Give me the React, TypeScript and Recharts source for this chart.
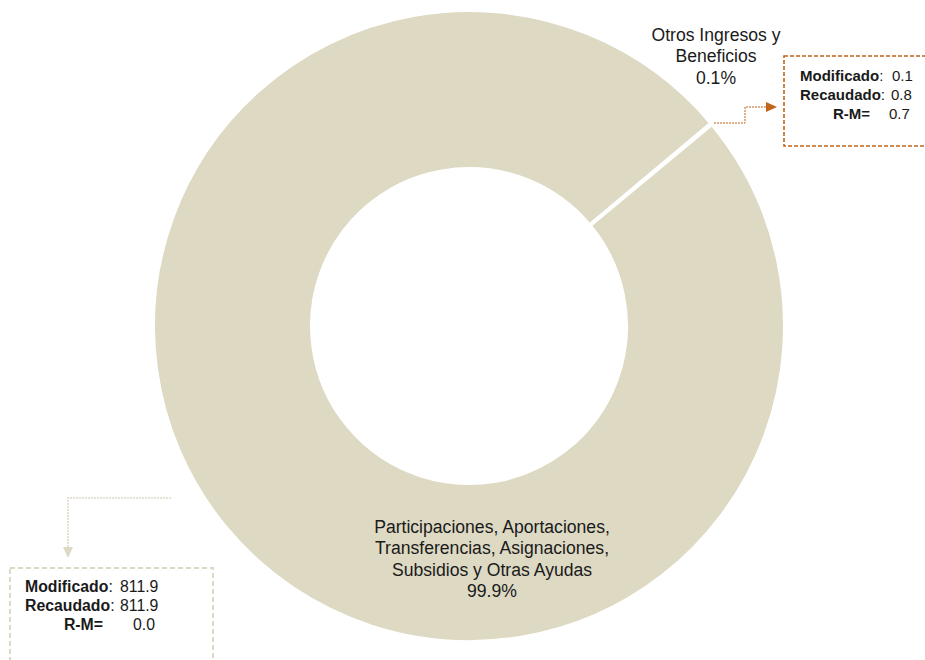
import { Cell, Pie, PieChart } from 'recharts';

document.body.style.margin = '0';

const categories = [
    'Otros Ingresos y Beneficios',
    'Participaciones, Aportaciones, Transferencias, Asignaciones, Subsidios y Otras Ayudas',
];
const labelLines = [
    ['Otros Ingresos y', 'Beneficios'],
    ['Participaciones, Aportaciones,', 'Transferencias, Asignaciones,', 'Subsidios y Otras Ayudas'],
];
const modificado = [0.1, 811.9];
const recaudado = [0.8, 811.9];

const FILL = '#DDD9C3';
const TEXT = '#1a1a1a';
const FONT = '"Liberation Sans", Arial, sans-serif';

const data = categories.map((name, i) => ({
    name,
    value: recaudado[i],
    modificado: modificado[i],
    recaudado: recaudado[i],
}));

// label / callout placement relative to the pie centre
const labelPos = [
    { dx: 247, dy: -291 },
    { dx: 23, dy: 201 },
];

// rows of a callout box: bold caption, value
function boxRows(index: number) {
    const mod = modificado[index];
    const rec = recaudado[index];
    return [
        ['Modificado', ':', mod.toFixed(1)],
        ['Recaudado', ':', rec.toFixed(1)],
        ['R-M=', '', (rec - mod).toFixed(1)],
    ];
}

function Callout({ index, cx, cy }: { index: number; cx: number; cy: number }) {
    const rows = boxRows(index);
    const top = index === 0;
    const color = top ? '#C0651A' : FILL;
    const textX = top ? cx + 331 : cx - 444;
    const rmX = top ? cx + 401 : cx - 366;
    const valX = top ? [cx + 423, cx + 422, cx + 420] : [cx - 349, cx - 349, cx - 336];
    const rowY = top ? cy - 251 : cy + 260;
    return (
        <g>
            {top ? (
                <>
                    <polyline
                        points={`${cx + 245},${cy - 203} ${cx + 276},${cy - 203} ${cx + 276},${cy - 219} ${cx + 298},${cy - 219}`}
                        fill="none"
                        stroke={color}
                        strokeWidth={1}
                        strokeDasharray="2 1"
                    />
                    <polygon
                        points={`${cx + 297},${cy - 224} ${cx + 308},${cy - 219} ${cx + 297},${cy - 214}`}
                        fill={color}
                    />
                    <rect
                        x={cx + 315}
                        y={cy - 270}
                        width={160}
                        height={90}
                        fill="none"
                        stroke={color}
                        strokeWidth={1.6}
                        strokeDasharray="4 2"
                    />
                </>
            ) : (
                <>
                    <polyline
                        points={`${cx - 298},${cy + 172} ${cx - 401},${cy + 172} ${cx - 401},${cy + 222}`}
                        fill="none"
                        stroke={color}
                        strokeWidth={1.5}
                        strokeDasharray="2 1"
                    />
                    <polygon
                        points={`${cx - 406},${cy + 221} ${cx - 396},${cy + 221} ${cx - 401},${cy + 232}`}
                        fill={color}
                    />
                    <rect
                        x={cx - 459}
                        y={cy + 242}
                        width={203}
                        height={120}
                        fill="none"
                        stroke={color}
                        strokeWidth={2}
                        strokeDasharray="5 3"
                    />
                </>
            )}
            <g fontFamily={FONT} fontSize={top ? 15 : 15.8} fill={TEXT}>
                {rows.map(([cap, colon, val], i) => (
                    <g key={i}>
                        {i < 2 ? (
                            <text x={textX} y={rowY + i * 19} dominantBaseline="central">
                                <tspan fontWeight="bold">{cap}</tspan>
                                {colon}
                            </text>
                        ) : (
                            <text
                                x={rmX}
                                y={rowY + i * 19}
                                dominantBaseline="central"
                                textAnchor="end"
                                fontWeight="bold"
                            >
                                {cap}
                            </text>
                        )}
                        <text x={valX[i]} y={rowY + i * 19} dominantBaseline="central">
                            {val}
                        </text>
                    </g>
                ))}
            </g>
        </g>
    );
}

function renderLabel(props: any) {
    const { cx, cy, index, percent } = props;
    const pos = labelPos[index];
    const lines = [...labelLines[index], `${(percent * 100).toFixed(1)}%`];
    const x = cx + pos.dx;
    return (
        <g>
            <text
                x={x}
                y={cy + pos.dy}
                textAnchor="middle"
                dominantBaseline="central"
                fontFamily={FONT}
                fontSize={17.6}
                fill={TEXT}
            >
                {lines.map((line, i) => (
                    <tspan key={i} x={x} dy={i === 0 ? 0 : 21.3}>
                        {line}
                    </tspan>
                ))}
            </text>
            <Callout index={index} cx={cx} cy={cy} />
        </g>
    );
}

export default function App() {
    return (
        <div style={{ width: 925, height: 660, background: '#fff' }}>
            <PieChart width={925} height={660} margin={{ top: 0, right: 0, bottom: 0, left: 0 }}>
                <Pie
                    data={data}
                    dataKey="value"
                    nameKey="name"
                    cx={469}
                    cy={326}
                    startAngle={40}
                    endAngle={-320}
                    innerRadius={157.5}
                    outerRadius={315.5}
                    stroke="#fff"
                    strokeWidth={3}
                    label={renderLabel}
                    labelLine={false}
                    isAnimationActive={false}
                >
                    {data.map((d) => (
                        <Cell key={d.name} fill={FILL} />
                    ))}
                </Pie>
            </PieChart>
        </div>
    );
}
